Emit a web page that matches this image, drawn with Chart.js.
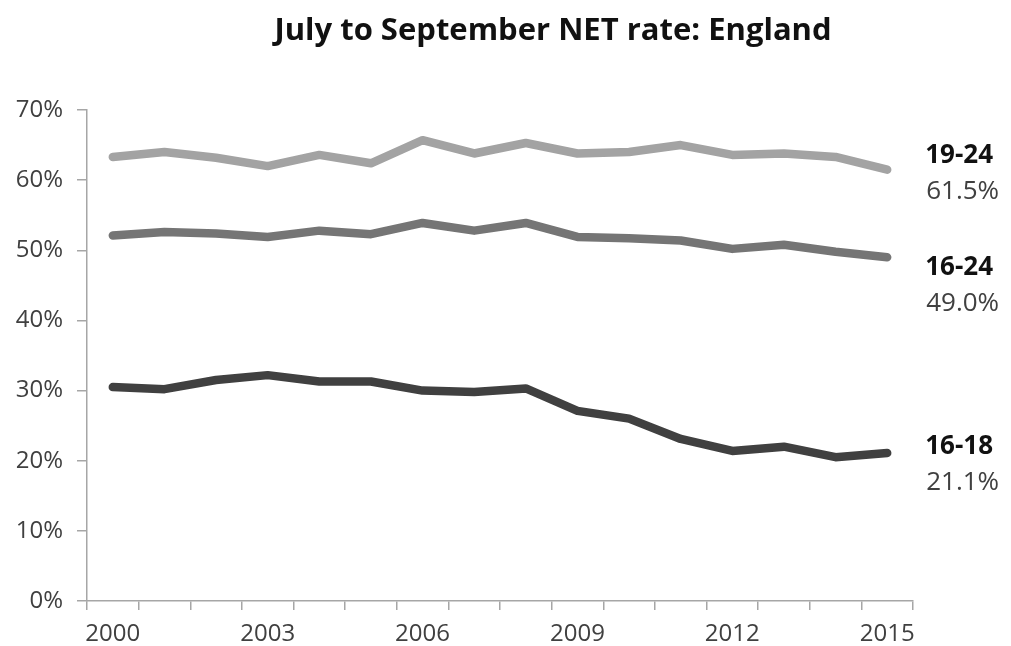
<!DOCTYPE html>
<html>
<head>
<meta charset="utf-8">
<title>July to September NET rate: England</title>
<script src="https://cdn.jsdelivr.net/npm/chart.js@4"></script>
<style>
    html, body { margin: 0; padding: 0; background: #fff; }
    #wrap { width: 1011px; height: 646px; }
</style>
</head>
<body>
<div id="wrap"><canvas id="netChart" width="1011" height="646"></canvas></div>
<script>
// Chart data (percent)
const years = ['2000', '2001', '2002', '2003', '2004', '2005', '2006', '2007',
               '2008', '2009', '2010', '2011', '2012', '2013', '2014', '2015'];
const age1924 = [63.3, 64.0, 63.2, 62.0, 63.6, 62.4, 65.7, 63.8, 65.3, 63.8, 64.0, 65.0, 63.6, 63.8, 63.3, 61.5];
const age1624 = [52.1, 52.6, 52.4, 51.9, 52.8, 52.3, 53.9, 52.8, 53.9, 51.9, 51.7, 51.4, 50.2, 50.8, 49.8, 49.0];
const age1618 = [30.5, 30.2, 31.5, 32.2, 31.3, 31.3, 30.0, 29.8, 30.3, 27.1, 26.0, 23.1, 21.4, 22.0, 20.5, 21.1];
const seriesNames = ['19-24', '16-24', '16-18'];
const yTicks = [0, 10, 20, 30, 40, 50, 60, 70];

const FONT = "'Open Sans', 'DejaVu Sans', sans-serif";
const AXIS_GREY = '#a6a6a6';

// Title + end-of-line labels
const endLabels = {
    id: 'endLabels',
    afterDatasetsDraw(chart, args, opts) {
        const ctx = chart.ctx;
        ctx.save();
        ctx.textAlign = 'left';
        ctx.textBaseline = 'middle';
        chart.data.datasets.forEach((ds, i) => {
            const meta = chart.getDatasetMeta(i);
            const pt = meta.data[meta.data.length - 1];
            const x = pt.x + 38;
            const y = pt.y + opts.shift[i];
            ctx.fillStyle = '#111';
            ctx.font = 'bold 26px ' + FONT;
            ctx.fillText(ds.label, x, y);
            ctx.fillStyle = '#404040';
            ctx.font = '26px ' + FONT;
            ctx.fillText(ds.data[ds.data.length - 1].toFixed(1) + '%', x + 1, y + 36);
        });
        // title
        ctx.textAlign = 'center';
        ctx.fillStyle = '#111';
        ctx.font = 'bold 31px ' + FONT;
        ctx.fillText('July to September NET rate: England', 553, 31);
        ctx.restore();
    }
};

function makeLine(label, data, colour) {
    return {
        label: label,
        data: data,
        borderColor: colour,
        backgroundColor: colour,
        borderWidth: 8.5,
        borderCapStyle: 'round',
        borderJoinStyle: 'round',
        pointRadius: 0,
        tension: 0,
        fill: false
    };
}

new Chart(document.getElementById('netChart'), {
    type: 'line',
    data: {
        labels: years,
        datasets: [
            makeLine(seriesNames[0], age1924, '#a3a3a3'),
            makeLine(seriesNames[1], age1624, '#757575'),
            makeLine(seriesNames[2], age1618, '#404040')
        ]
    },
    options: {
        responsive: false,
        animation: false,
        layout: { padding: { top: 110, right: 98, bottom: 0, left: 0 } },
        plugins: {
            legend: { display: false },
            title: { display: false },
            tooltip: { enabled: false },
            endLabels: { shift: [-14, 10, -6] }
        },
        scales: {
            x: {
                offset: true,
                grid: {
                    offset: true,
                    drawOnChartArea: false,
                    color: AXIS_GREY,
                    lineWidth: 1.5,
                    tickLength: 9
                },
                border: { color: AXIS_GREY, width: 1.5 },
                ticks: {
                    autoSkip: false,
                    maxRotation: 0,
                    padding: 10,
                    color: '#404040',
                    font: { family: FONT, size: 24 },
                    callback: function(value, index) {
                        return index % 3 === 0 ? years[index] : '';
                    }
                },
                afterFit: function(scale) { scale.height = 45; }
            },
            y: {
                min: yTicks[0],
                max: yTicks[yTicks.length - 1],
                grid: {
                    drawOnChartArea: false,
                    color: AXIS_GREY,
                    lineWidth: 1.5,
                    tickLength: 10
                },
                border: { color: AXIS_GREY, width: 1.5 },
                afterBuildTicks: function(scale) {
                    scale.ticks = yTicks.map(v => ({ value: v }));
                },
                ticks: {
                    padding: 14,
                    color: '#404040',
                    font: { family: FONT, size: 24 },
                    callback: function(value) { return value + '%'; }
                },
                afterFit: function(scale) { scale.width = 87; }
            }
        }
    },
    plugins: [endLabels]
});
</script>
</body>
</html>
